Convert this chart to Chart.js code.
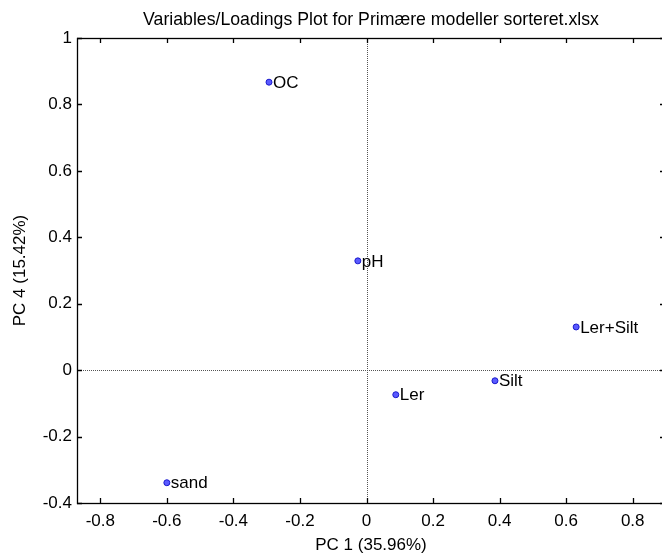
<!DOCTYPE html>
<html lang="da">
<head>
    <meta charset="UTF-8">
    <title>Variables/Loadings Plot</title>
    <script src="https://cdn.jsdelivr.net/npm/chart.js@4.4.0/dist/chart.umd.min.js"></script>
    <style>
        html, body {
            margin: 0;
            padding: 0;
            background: #ffffff;
            overflow: hidden;
        }
        #wrap {
            width: 662px;
            height: 554px;
            position: relative;
            overflow: hidden;
        }
    </style>
</head>
<body>
    <div id="wrap">
        <!-- the axes box runs a few pixels past the right edge -->
        <canvas id="loadingsChart" width="669" height="554"></canvas>
    </div>

    <script>
        // loadings per variable (PC 1 vs PC 4)
        const variableNames = ['OC', 'pH', 'Ler', 'Silt', 'Ler+Silt', 'sand'];
        const pc1Loadings = [-0.293, -0.026, 0.088, 0.386, 0.630, -0.600];
        const pc4Loadings = [0.867, 0.329, -0.074, -0.032, 0.130, -0.339];

        const xTicks = [-0.8, -0.6, -0.4, -0.2, 0, 0.2, 0.4, 0.6, 0.8];
        const yTicks = [-0.4, -0.2, 0, 0.2, 0.4, 0.6, 0.8, 1];

        const chartTitle = 'Variables/Loadings Plot for Primære modeller sorteret.xlsx';
        const FONT = "'Liberation Sans', Arial, sans-serif";

        // title, zero lines, box with inward ticks and point labels
        const matlabAxes = {
            id: 'matlabAxes',
            beforeDatasetsDraw(chart) {
                const { ctx, chartArea: a, scales: { x, y } } = chart;
                ctx.save();
                ctx.strokeStyle = '#555';
                ctx.lineWidth = 1;
                ctx.setLineDash([1, 1]);
                const x0 = Math.round(x.getPixelForValue(0)) + 0.5;
                const y0 = Math.round(y.getPixelForValue(0)) + 0.5;
                ctx.beginPath();
                ctx.moveTo(x0, a.top);
                ctx.lineTo(x0, a.bottom);
                ctx.moveTo(a.left, y0);
                ctx.lineTo(a.right, y0);
                ctx.stroke();
                ctx.restore();
            },
            afterDatasetsDraw(chart) {
                const { ctx } = chart;
                const meta = chart.getDatasetMeta(0);
                ctx.save();
                ctx.font = '17px ' + FONT;
                ctx.fillStyle = '#000';
                ctx.textAlign = 'left';
                ctx.textBaseline = 'middle';
                meta.data.forEach((pt, i) => {
                    ctx.fillText(variableNames[i], pt.x + 4, pt.y + 1);
                });
                ctx.restore();
            },
            afterDraw(chart) {
                const { ctx, chartArea: a, scales: { x, y } } = chart;
                const tick = 5;
                ctx.save();
                ctx.strokeStyle = '#000';
                ctx.lineWidth = 1.3;
                ctx.strokeRect(a.left + 0.5, a.top + 0.5, a.right - a.left, a.bottom - a.top);
                ctx.beginPath();
                xTicks.forEach(v => {
                    const px = Math.round(x.getPixelForValue(v)) + 0.5;
                    ctx.moveTo(px, a.bottom);
                    ctx.lineTo(px, a.bottom - tick);
                    ctx.moveTo(px, a.top);
                    ctx.lineTo(px, a.top + tick);
                });
                yTicks.forEach(v => {
                    const py = Math.round(y.getPixelForValue(v)) + 0.5;
                    ctx.moveTo(a.left, py);
                    ctx.lineTo(a.left + tick, py);
                    ctx.moveTo(a.right, py);
                    ctx.lineTo(a.right - tick, py);
                });
                ctx.stroke();

                ctx.font = '17.7px ' + FONT;
                ctx.fillStyle = '#000';
                ctx.textAlign = 'center';
                ctx.textBaseline = 'alphabetic';
                ctx.fillText(chartTitle, (a.left + a.right) / 2, 25);
                ctx.restore();
            }
        };

        const ctx = document.getElementById('loadingsChart').getContext('2d');
        const loadingsChart = new Chart(ctx, {
            type: 'scatter',
            data: {
                datasets: [{
                    data: pc1Loadings.map((v, i) => ({ x: v, y: pc4Loadings[i] })),
                    backgroundColor: '#5a5aff',
                    borderColor: '#1a1acc',
                    borderWidth: 1,
                    pointRadius: 3,
                    pointHoverRadius: 3
                }]
            },
            options: {
                responsive: false,
                animation: false,
                events: [],
                layout: {
                    padding: { top: 38, right: 0, left: 0, bottom: 0 }
                },
                plugins: {
                    legend: { display: false },
                    title: { display: false },
                    tooltip: { enabled: false }
                },
                scales: {
                    x: {
                        type: 'linear',
                        min: -0.87,
                        max: 0.897,
                        afterBuildTicks: scale => {
                            scale.ticks = xTicks.map(v => ({ value: v }));
                        },
                        afterFit: scale => {
                            scale.height = 51;
                            scale.paddingLeft = 0;
                            scale.paddingRight = 0;
                        },
                        grid: { display: false, drawTicks: false },
                        border: { display: false },
                        ticks: {
                            color: '#000',
                            padding: 8,
                            maxRotation: 0,
                            font: { family: FONT, size: 17 },
                            callback: v => String(v)
                        },
                        title: {
                            display: true,
                            text: 'PC 1 (35.96%)',
                            color: '#000',
                            font: { family: FONT, size: 17, lineHeight: 1 },
                            padding: { top: 0, bottom: 0 }
                        }
                    },
                    y: {
                        type: 'linear',
                        min: -0.4,
                        max: 1,
                        afterBuildTicks: scale => {
                            scale.ticks = yTicks.map(v => ({ value: v }));
                        },
                        afterFit: scale => { scale.width = 77; },
                        grid: { display: false, drawTicks: false },
                        border: { display: false },
                        ticks: {
                            color: '#000',
                            padding: 5,
                            font: { family: FONT, size: 17 },
                            callback: v => String(v)
                        },
                        title: {
                            display: true,
                            text: 'PC 4 (15.42%)',
                            color: '#000',
                            font: { family: FONT, size: 17 },
                            padding: { top: 10, bottom: 0 }
                        }
                    }
                }
            },
            plugins: [matlabAxes]
        });
    </script>
</body>
</html>
